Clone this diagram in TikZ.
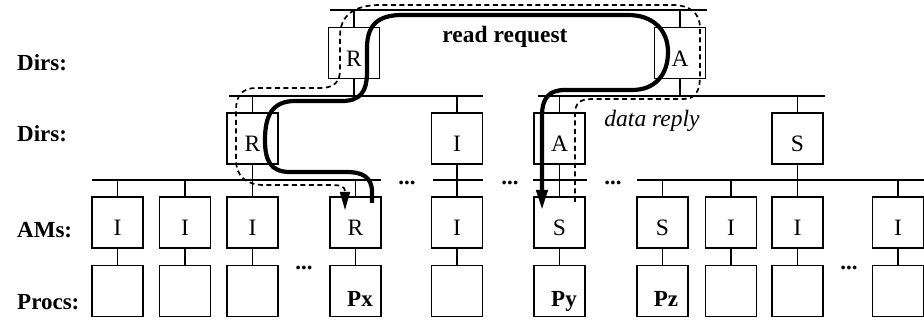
\documentclass[tikz,border=0pt]{standalone}
\usepackage{fontspec}
\setmainfont{Liberation Serif}
\usetikzlibrary{arrows.meta}
\begin{document}
\begin{tikzpicture}[x=1pt,y=-1pt,
  box/.style={draw,line width=1.7pt,minimum width=51pt,minimum height=51pt,inner sep=0pt,fill=white,text height=27pt,text depth=0pt,font=\fontsize{23.5}{27}\selectfont},
  wire/.style={line width=1.7pt},
  lbl/.style={anchor=base west,font=\fontsize{23}{27}\selectfont\bfseries,inner sep=0pt},
  dotsx/.style={anchor=base,font=\fontsize{23}{27}\selectfont\bfseries,inner sep=0pt},
  bname/.style={anchor=base,font=\fontsize{23}{27}\selectfont\bfseries,inner sep=0pt},
  req/.style={line width=4.2pt},
  rep/.style={line width=1.7pt,dash pattern=on 5pt off 3.5pt},
]
\useasboundingbox (0,0) rectangle (924,320);

% buses
\coordinate (tb1) at (330,10);  \coordinate (tb2) at (707,10);
\coordinate (mb1) at (229,96);  \coordinate (mb2) at (483,96);
\coordinate (mb3) at (538,96);  \coordinate (mb4) at (825,96);
\coordinate (ab1) at (92,180);  \coordinate (ab2) at (381,180);
\coordinate (ab3) at (433,180); \coordinate (ab4) at (483,180);
\coordinate (ab5) at (533,180); \coordinate (ab6) at (587,180);
\coordinate (ab7) at (637,180); \coordinate (ab8) at (924,180);
\draw[wire] (tb1) -- (tb2);
\draw[wire] (mb1) -- (mb2);
\draw[wire] (mb3) -- (mb4);
\draw[wire] (ab1) -- (ab2);
\draw[wire] (ab3) -- (ab4);
\draw[wire] (ab5) -- (ab6);
\draw[wire] (ab7) -- (ab8);

% directory boxes
\node[box] (tR) at (354,53) {R};
\node[box] (tA) at (680,53) {A};
\node[box] (mR) at (252.5,138.5) {R};
\node[box] (mI) at (457,138.5) {I};
\node[box] (mA) at (559.5,138.5) {A};
\node[box] (mS) at (797.5,138.5) {S};

\draw[wire] (tR.north) -- (tR.north |- tb1);
\draw[wire] (tA.north) -- (tA.north |- tb1);
\draw[wire] (tR.south) -- (tR.south |- mb1);
\draw[wire] (tA.south) -- (tA.south |- mb3);
\foreach \m in {mR,mI,mA,mS}{
  \draw[wire] (\m.north) -- (\m.north |- mb1);
  \draw[wire] (\m.south) -- (\m.south |- ab1);
}

% AMs and processors
\foreach \n/\x/\t in {1/117.5/I, 2/185/I, 3/252.5/I, 4/355.5/R, 5/457/I, 6/559.5/S, 7/662.5/S, 8/731/I, 9/797.5/I, 10/898/I}{
  \node[box] (a\n) at (\x,222.5) {\t};
  \node[box] (p\n) at (\x,291) {};
  \draw[wire] (a\n.south) -- (p\n.north);
  \draw[wire] (a\n.north) -- (a\n.north |- ab1);
}

% ellipses
\node[dotsx] (e1) at (407,185) {...};
\node[dotsx] (e2) at (510,185) {...};
\node[dotsx] (e3) at (613,185) {...};
\node[dotsx] (e4) at (304,270) {...};
\node[dotsx] (e5) at (849,270) {...};

% processor names
\node[bname] (px) at (360,307) {Px};
\node[bname] (py) at (564,307) {Py};
\node[bname] (pz) at (666,307) {Pz};

% row labels
\node[lbl] (l1) at (17,71) {Dirs:};
\node[lbl] (l2) at (17,142) {Dirs:};
\node[lbl] (l3) at (17,238) {AMs:};
\node[lbl] (l4) at (17,310) {Procs:};

% texts
\node[anchor=base,inner sep=0pt,font=\fontsize{23.5}{27}\selectfont\bfseries] (rr) at (505,43) {read request};
\node[anchor=base,inner sep=0pt,font=\fontsize{23.5}{27}\selectfont\itshape] (dr) at (652,127) {data reply};

% read request path
\coordinate (rqs) at (372,203);
\coordinate (rqe) at (542,210);
\draw[req,-{Triangle[length=20pt,width=11pt]}] (rqs) -- (372,192)
  .. controls (372,177) and (362,172) .. (347,172) -- (290,172)
  .. controls (270,172) and (265,160) .. (265,140)
  .. controls (265,116) and (272,101) .. (295,101) -- (342,101)
  .. controls (360,101) and (367,92) .. (367,72) -- (367,48)
  .. controls (367,25) and (378,15) .. (402,15) -- (628,15)
  .. controls (653,15) and (668,30) .. (668,52)
  .. controls (668,75) and (655,90) .. (632,90) -- (565,90)
  .. controls (549,90) and (542,98) .. (542,116) -- (rqe);

% data reply path
\coordinate (dps) at (575,202);
\coordinate (dpe) at (345,210);
\draw[rep,-{Triangle[length=18pt,width=10pt]}] (dps) -- (575,114)
  .. controls (575,103) and (580,99) .. (592,99) -- (684,99)
  .. controls (696,99) and (700,90) .. (700,76) -- (700,28)
  .. controls (700,13) and (690,5) .. (672,5) -- (380,5)
  .. controls (355,5) and (340,15) .. (340,36) -- (340,70)
  .. controls (340,82) and (334,88) .. (320,88) -- (256,88)
  .. controls (242,88) and (236,96) .. (236,110) -- (236,160)
  .. controls (236,176) and (246,185) .. (264,185) -- (326,185)
  .. controls (339,185) and (345,185) .. (345,192) -- (dpe);
\end{tikzpicture}
\end{document}
